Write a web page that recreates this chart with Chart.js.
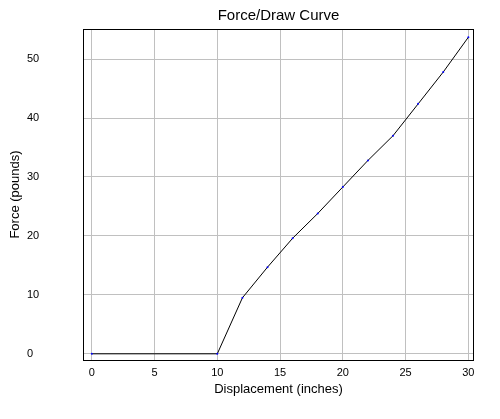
<!DOCTYPE html>
<html>
<head>
<meta charset="utf-8">
<title>Force/Draw Curve</title>
<script src="https://cdn.jsdelivr.net/npm/chart.js@4/dist/chart.umd.min.js"></script>
<style>
    html, body { margin: 0; padding: 0; background: #ffffff; }
    #wrap { position: relative; width: 500px; height: 419px; }
</style>
</head>
<body>
<div id="wrap"><canvas id="forceDrawChart"></canvas></div>
<script>
    // data
    const displacement = [0, 10, 12, 14, 16, 18, 20, 22, 24, 26, 28, 30];
    const force = [0, 0, 9.5, 14.7, 19.6, 23.8, 28.3, 32.8, 37.0, 42.4, 47.8, 53.7];

    const xTicks = [0, 5, 10, 15, 20, 25, 30];
    const yTicks = [0, 10, 20, 30, 40, 50];

    const chartTitle = 'Force/Draw Curve';
    const xTitle = 'Displacement (inches)';
    const yTitle = 'Force (pounds)';

(function() {
    'use strict';

    const FONT = '"Liberation Sans", Arial, sans-serif';

    /* ========================================
       HELPERS
       ======================================== */

    const points = displacement.map((x, i) => ({ x: x, y: force[i] }));

    // frame + main title + y title (left labels are far-aligned, so the title is drawn here)
    const framePlugin = {
        id: 'frame',
        afterDraw(chart) {
            const ctx = chart.ctx;
            const a = chart.chartArea;
            ctx.save();
            ctx.strokeStyle = '#000000';
            ctx.lineWidth = 1;
            ctx.strokeRect(Math.round(a.left) + 0.5, Math.round(a.top) + 0.5,
                Math.round(a.right - a.left) - 1, Math.round(a.bottom - a.top));

            ctx.fillStyle = '#000000';
            ctx.textAlign = 'center';
            ctx.textBaseline = 'middle';
            ctx.font = '15px ' + FONT;
            ctx.fillText(chartTitle, (a.left + a.right) / 2, 16);

            ctx.translate(15, (a.top + a.bottom) / 2);
            ctx.rotate(-Math.PI / 2);
            ctx.font = '13px ' + FONT;
            ctx.fillText(yTitle, 0, 0);
            ctx.restore();
        }
    };

    /* ========================================
       CHART
       ======================================== */

    const el = document.getElementById('forceDrawChart');
    if (!el) {
        console.error('canvas #forceDrawChart not found');
        return;
    }

    new Chart(el.getContext('2d'), {
        type: 'scatter',
        data: {
            datasets: [{
                label: 'Force',
                data: points,
                showLine: true,
                borderColor: '#000000',
                borderWidth: 1,
                tension: 0,
                pointRadius: 1,
                pointBorderWidth: 0,
                pointBackgroundColor: '#0000ff'
            }]
        },
        options: {
            responsive: true,
            maintainAspectRatio: false,
            animation: false,
            devicePixelRatio: 1,
            layout: { padding: { left: 27, right: 26, top: 29, bottom: 22 } },
            plugins: {
                legend: { display: false },
                title: { display: false },
                tooltip: { enabled: false }
            },
            scales: {
                x: {
                    type: 'linear',
                    min: -0.7,
                    max: 30.45,
                    afterBuildTicks: (scale) => { scale.ticks = xTicks.map(v => ({ value: v })); },
                    afterFit: (scale) => { scale.height = 37; },
                    grid: { color: '#c0c0c0', drawTicks: false, lineWidth: 1 },
                    border: { display: false },
                    ticks: {
                        color: '#000000',
                        padding: 6,
                        maxRotation: 0,
                        font: { family: FONT, size: 11 }
                    },
                    title: {
                        display: true,
                        text: xTitle,
                        color: '#000000',
                        padding: { top: 3, bottom: 0 },
                        font: { family: FONT, size: 13 }
                    }
                },
                y: {
                    type: 'linear',
                    min: -1.05,
                    max: 55.1,
                    afterBuildTicks: (scale) => { scale.ticks = yTicks.map(v => ({ value: v })); },
                    afterFit: (scale) => { scale.width = 56; },
                    grid: { color: '#c0c0c0', drawTicks: false, lineWidth: 1 },
                    border: { display: false },
                    ticks: {
                        color: '#000000',
                        crossAlign: 'far',
                        font: { family: FONT, size: 11 }
                    }
                }
            }
        },
        plugins: [framePlugin]
    });

    console.log('force/draw chart ready');
})();
</script>
</body>
</html>
